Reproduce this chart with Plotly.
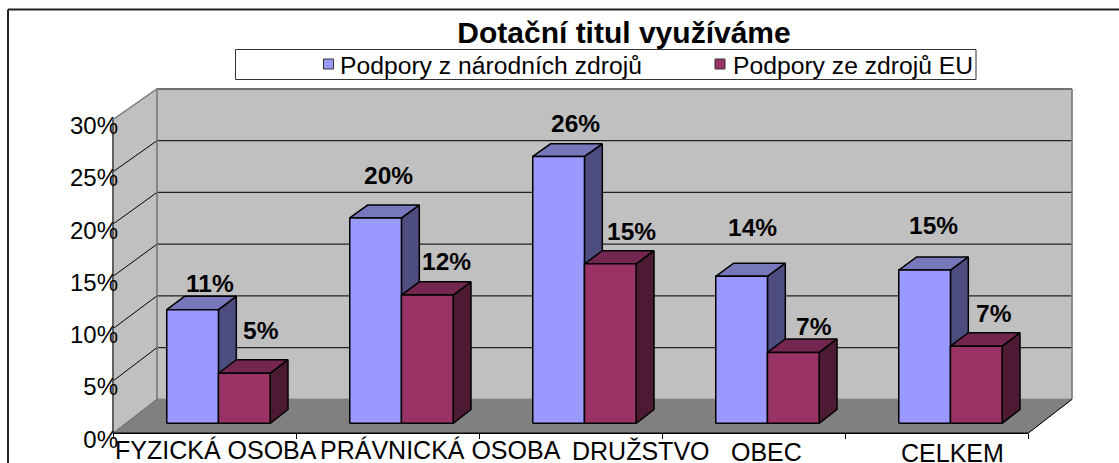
import plotly.graph_objects as go

# --- data ---
categories = ["FYZICKÁ OSOBA", "PRÁVNICKÁ OSOBA", "DRUŽSTVO", "OBEC", "CELKEM"]
series_names = ["Podpory z národních zdrojů", "Podpory ze zdrojů EU"]
national = [10.9, 19.7, 25.6, 14.1, 14.7]
eu = [4.8, 12.3, 15.3, 6.8, 7.4]
y_ticks = [0, 5, 10, 15, 20, 25, 30]
title = "Dotační titul využíváme"

# --- styles and layout constants ---
W, H = 1119, 463
FONT = "Liberation Sans"
PX_X, PX_Y = 183.0, 10.46          # pixels per category / per percent
X0_PX, Y0_PX = 113.0, 433.3        # pixel position of the front origin
DX, DY = 44 / PX_X, 34 / PX_Y      # full depth, in axis units
BACK = 0.989                       # back wall is a little smaller
BAR_F = 0.223                      # bar start inside a category
BAR_W = 0.2825
BAR_D = (0.294, 0.70)
VMAX = 30

FACE = [("#9999FF", "#7777BB", "#4D4D80"), ("#993366", "#732650", "#4D1A33")]
LABEL_SHIFT = [[(0, 13), (-1, 29)], [(-5, 30), (1, 20)], [(-1, 20), (3, 19)],
               [(-7, 36), (3, 12)], [(-9, 31), (0, 19)]]
CAT_SHIFT = [(11, 0), (53, 0), (70, -1), (12.5, -2), (16, -3)]


def P(x, v, d):
    s = 1 + (BACK - 1) * d
    return x + d * DX, v * s + d * DY


def poly(pts, fill, line="black", width=1.5):
    return go.Scatter(x=[p[0] for p in pts] + [pts[0][0]],
                      y=[p[1] for p in pts] + [pts[0][1]],
                      mode="lines", fill="toself", fillcolor=fill,
                      line=dict(color=line, width=width),
                      hoverinfo="skip", showlegend=False)


def seg(a, b, color, width):
    return go.Scatter(x=[a[0], b[0]], y=[a[1], b[1]], mode="lines",
                      line=dict(color=color, width=width),
                      hoverinfo="skip", showlegend=False)


fig = go.Figure()
N = len(categories)
# walls and floor
fig.add_trace(poly([P(0, 0, 0), P(0, VMAX, 0), P(0, VMAX, 1), P(0, 0, 1)], "#C0C0C0", "#808080", 1))
fig.add_trace(poly([P(0, 0, 1), P(0, VMAX, 1), P(N, VMAX, 1), P(N, 0, 1)], "#C0C0C0", "#808080", 1))
fig.add_trace(poly([P(0, 0, 0), P(0, 0, 1), P(N, 0, 1), P(N, 0, 0)], "#808080", "#808080", 1))
for v in y_ticks[1:-1]:
    fig.add_trace(seg(P(0, v, 0), P(0, v, 1), "#000000", 1))
    fig.add_trace(seg(P(0, v, 1), P(N, v, 1), "#222222", 1.2))
fig.add_trace(seg(P(0, 30, 0), P(0, 30, 1), "#808080", 1.5))
fig.add_trace(seg(P(0, 30, 1), P(N, 30, 1), "#707070", 2))
fig.add_trace(seg(P(0, 0, 0), P(0, 30, 0), "#606060", 2))
fig.add_trace(seg(P(0, 0, 1), P(0, 30, 1), "#808080", 1.5))
fig.add_trace(seg(P(N, 0, 1), P(N, 30, 1), "#808080", 1.5))
fig.add_trace(seg(P(0, 0, 0), P(0, 0, 1), "#707070", 1))
fig.add_trace(seg(P(0, 0, 0), P(N, 0, 0), "#000000", 1.5))
fig.add_trace(seg(P(N, 0, 0), P(N, 0, 1), "#000000", 1))

# bars
annotations = []
d0, d1 = BAR_D
for k in range(N):
    for s, values in enumerate([national, eu]):
        v = values[k]
        a = k + BAR_F + s * BAR_W
        b = a + BAR_W
        front, top, side = FACE[s]
        fig.add_trace(poly([P(b, 0, d0), P(b, v, d0), P(b, v, d1), P(b, 0, d1)], side))
        fig.add_trace(poly([P(a, v, d0), P(b, v, d0), P(b, v, d1), P(a, v, d1)], top))
        fig.add_trace(poly([P(a, 0, d0), P(b, 0, d0), P(b, v, d0), P(a, v, d0)], front))
        lx, ly = P((a + b) / 2, v, d1)
        sx, sy = LABEL_SHIFT[k][s]
        annotations.append(dict(x=lx, y=ly, text=f"<b>{round(v)}%</b>", showarrow=False,
                                xshift=sx, yshift=sy, font=dict(size=24.5, color="black"),
                                xanchor="center", yanchor="middle"))

# category labels
for k, c in enumerate(categories):
    sx, sy = CAT_SHIFT[k]
    annotations.append(dict(x=k + 0.5, y=0, text=c, showarrow=False, xshift=sx, yshift=-17 + sy,
                            font=dict(size=25, color="black"), xanchor="center", yanchor="middle"))

# legend
shapes = [
    dict(type="line", xref="paper", yref="paper", x0=8 / W, x1=1, y0=1 - 9.5 / H, y1=1 - 9.5 / H,
         line=dict(color="#222222", width=2)),
    dict(type="line", xref="paper", yref="paper", x0=8 / W, x1=8 / W, y0=0, y1=1 - 9.5 / H,
         line=dict(color="#222222", width=2)),
    dict(type="rect", xref="paper", yref="paper", x0=235.5 / W, x1=976 / W,
         y0=1 - 79.5 / H, y1=1 - 49.5 / H, line=dict(color="#333333", width=1), fillcolor="white"),
]
for (sw, tx), name, f in zip([(323.5, 338), (715, 731)], series_names, FACE):
    shapes.append(dict(type="rect", xref="paper", yref="paper", x0=sw / W, x1=(sw + 10) / W,
                       y0=1 - 69 / H, y1=1 - 59 / H, fillcolor=f[0], line=dict(color="#333333", width=1)))
    annotations.append(dict(xref="paper", yref="paper", x=tx / W, y=1 - 66 / H, text=name, showarrow=False,
                            xanchor="left", yanchor="middle", font=dict(size=24.7, color="black")))

fig.update_layout(
    width=W, height=H, autosize=False,
    margin=dict(l=0, r=0, t=0, b=0),
    paper_bgcolor="white", plot_bgcolor="white",
    showlegend=False,
    font=dict(family=FONT, color="black"),
    title=dict(text=f"<b>{title}</b>", x=624 / W, y=1 - 32 / H, xanchor="center", yanchor="middle",
               xref="paper", yref="paper", font=dict(size=30, color="black")),
    xaxis=dict(range=[-X0_PX / PX_X, (W - X0_PX) / PX_X], domain=[0, 1], anchor="free",
               position=(H - Y0_PX) / H, tickvals=list(range(N + 1)), ticks="outside", ticklen=5,
               tickcolor="black", tickwidth=1, showticklabels=False, showgrid=False, zeroline=False,
               showline=False),
    yaxis=dict(range=[-(H - Y0_PX) / PX_Y, Y0_PX / PX_Y], domain=[0, 1], anchor="free",
               position=118 / W, tickvals=y_ticks, ticktext=[f"{t}%" for t in y_ticks],
               tickfont=dict(size=24, color="black"), showgrid=False, zeroline=False, showline=False,
               ticks="", ticklabelshift=6),
    shapes=shapes,
    annotations=annotations,
)

fig.write_html("out.html", config={"displayModeBar": False},
               post_script="document.body.style.margin='0';document.body.style.overflow='hidden';")
